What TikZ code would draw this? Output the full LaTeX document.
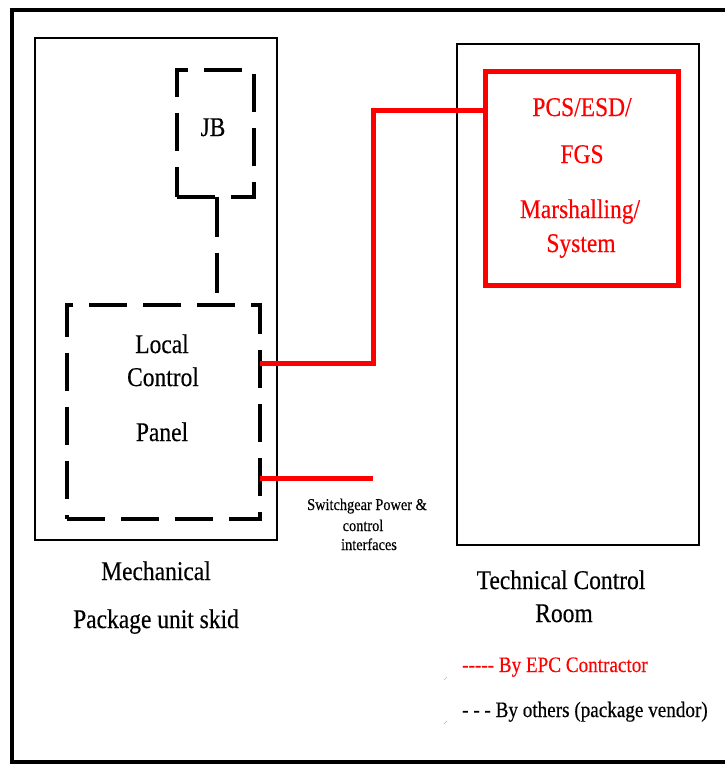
\documentclass[tikz,border=0pt]{standalone}
\usepackage{fontspec}
\setmainfont{Liberation Serif}[FakeStretch=0.87, FakeBold=0.35]
\begin{document}
\begin{tikzpicture}[x=1pt,y=-1pt,
  box/.style={draw, line width=1.8pt, inner sep=0pt, outer sep=0pt},
  vendorbox/.style={draw, line width=4.5pt, dash pattern=on 38pt off 16pt, inner sep=0pt, outer sep=0pt},
  epcbox/.style={draw=red, line width=5pt, inner sep=0pt, outer sep=0pt},
  epcline/.style={draw=red, line width=5pt},
  vendorline/.style={draw, line width=4.5pt, dash pattern=on 40pt off 16pt},
  big/.style={font=\fontsize{27}{32}\selectfont, anchor=base, inner sep=0pt},
  small/.style={font=\fontsize{16.5}{19}\selectfont, anchor=base, inner sep=0pt},
  legend/.style={font=\fontsize{22}{26}\selectfont, anchor=base west, inner sep=0pt}]
\useasboundingbox (0,0) rectangle (724,764);
\fill[white] (0,0) rectangle (724,764);
% outer frame
\draw[line width=4.5pt] (12,10) rectangle (740,762);
% containers
\node[box, minimum width=242pt, minimum height=502pt] (mech) at (156,289) {};
\node[box, minimum width=242pt, minimum height=501pt] (tcr) at (578,294.5) {};
% EPC system box
\node[epcbox, minimum width=193pt, minimum height=214pt] (sys) at (581.5,178) {};
% vendor boxes
\node[vendorbox, minimum width=77pt, minimum height=127pt] (jb) at (215.5,133.5) {};
\node[vendorbox, minimum width=193pt, minimum height=214pt] (lcp) at (163.5,412) {};
% texts
\node[big] (tjb) at (213,136) {JB};
\node[big] (tl1) at (162,353) {Local};
\node[big] (tl2) at (163,386) {Control};
\node[big] (tl3) at (162,441) {Panel};
\node[big, text=red] (ts1) at (582,116) {PCS/ESD/};
\node[big, text=red] (ts2) at (582,163) {FGS};
\node[big, text=red] (ts3) at (580,218) {Marshalling/};
\node[big, text=red] (ts4) at (581,252) {System};
\node[big] (tm1) at (156,580) {Mechanical};
\node[big] (tm2) at (156,628) {Package unit skid};
\node[big] (tt1) at (561,589) {Technical Control};
\node[big] (tt2) at (564,622) {Room};
\node[small] (sw1) at (367,510) {Switchgear Power \&};
\node[small] (sw2) at (363,531) {control};
\node[small] (sw3) at (369,550) {interfaces};
\node[legend, text=red] (lg1) at (462,672) {-{}-{}-{}-{}- By EPC Contractor};
\node[legend] (lg2) at (462,717) {- - - By others (package vendor)};
% connectors
\coordinate (bend1) at (373,363);
\coordinate (bend2) at (373,110.5);
\coordinate (swend) at (373,478);
\coordinate (jbdrop) at (217,250);
\draw[epcline] (lcp.east |- bend1) -- (bend1) -- (bend2) -- (bend2 -| sys.west);
\draw[epcline] (lcp.east |- swend) -- (swend);
\draw[vendorline] (jb.south -| jbdrop) -- (jbdrop |- lcp.north);
% faint marks
\coordinate (m1) at (444,680);
\coordinate (m2) at (444,724);
\draw[red!40, line width=0.6pt] (m1) -- ++(3,-3);
\draw[gray!60, line width=0.6pt] (m2) -- ++(3,-3);
\end{tikzpicture}
\end{document}
